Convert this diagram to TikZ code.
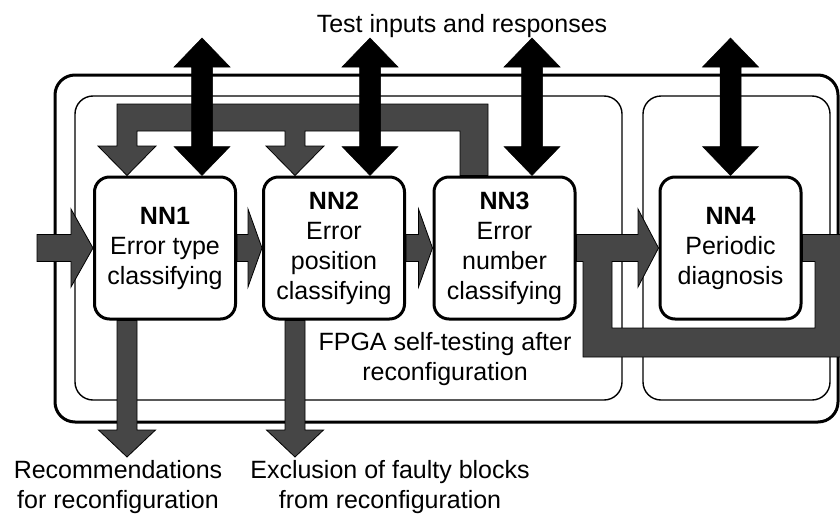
\documentclass[tikz,border=0pt]{standalone}
\usepackage{fontspec}
\setmainfont{Liberation Sans}
\usetikzlibrary{calc}
\pgfdeclarelayer{back}
\pgfsetlayers{back,main}
\definecolor{bandgray}{RGB}{70,70,70}
\tikzset{
  nnbox/.style={draw=black, line width=3pt, fill=white, rounded corners=15pt,
    minimum width=141pt, minimum height=142pt, align=center, inner sep=0pt,
    font=\fontsize{25}{30}\selectfont},
  frameouter/.style={draw=black, line width=3pt, rounded corners=20pt},
  framepanel/.style={draw=black, line width=1.4pt, rounded corners=18pt},
  grayband/.style={fill=bandgray, draw=black, line width=0.8pt, line join=miter},
  blackband/.style={fill=black, draw=black, line width=0.5pt},
  txt/.style={font=\fontsize{25}{30}\selectfont, align=center, inner sep=0pt},
}
% block arrow pointing right: style, start, tip, half body, half head, head length
\newcommand\BlockRight[6]{%
  \filldraw[#1] ($(#2)+(0,-#4)$) -- ($(#3)+(-#6,-#4)$) -- ($(#3)+(-#6,-#5)$) -- (#3)
    -- ($(#3)+(-#6,#5)$) -- ($(#3)+(-#6,#4)$) -- ($(#2)+(0,#4)$) -- cycle;}
% block arrow pointing down: style, start, tip, half body, half head, head length
\newcommand\BlockDown[6]{%
  \filldraw[#1] ($(#2)+(-#4,0)$) -- ($(#3)+(-#4,-#6)$) -- ($(#3)+(-#5,-#6)$) -- (#3)
    -- ($(#3)+(#5,-#6)$) -- ($(#3)+(#4,-#6)$) -- ($(#2)+(#4,0)$) -- cycle;}
% double-headed vertical block arrow: style, top tip, bottom tip, half body, half head, head length
\newcommand\BlockBoth[6]{%
  \filldraw[#1] (#2) -- ($(#2)+(#5,#6)$) -- ($(#2)+(#4,#6)$) -- ($(#3)+(#4,-#6)$)
    -- ($(#3)+(#5,-#6)$) -- (#3) -- ($(#3)+(-#5,-#6)$) -- ($(#3)+(-#4,-#6)$)
    -- ($(#2)+(-#4,#6)$) -- ($(#2)+(-#5,#6)$) -- cycle;}
\begin{document}
\begin{tikzpicture}[x=1pt,y=-1pt]
\useasboundingbox (0,0) rectangle (840,514);

% frames
\begin{pgfonlayer}{back}
  \draw[frameouter] (55,75) rectangle (838,422);
  \draw[framepanel] (75,96) rectangle (622,400);
  \draw[framepanel] (643,96) rectangle (830,400);
\end{pgfonlayer}

% neural network blocks
\node[nnbox] (n1) at (165,248) {\textbf{NN1}\\Error type\\classifying};
\node[nnbox] (n2) at (334,248) {\textbf{NN2}\\Error\\position\\classifying};
\node[nnbox] (n3) at (504.5,248) {\textbf{NN3}\\Error\\number\\classifying};
\node[nnbox] (n4) at (730.5,248) {\textbf{NN4}\\Periodic\\diagnosis};

% texts
\node[txt, anchor=base] (tir) at (462,32) {Test inputs and responses};
\node[txt, anchor=north] (fpga) at (445,332) {FPGA self-testing after\\reconfiguration};
\node[txt, anchor=north] (rec) at (118,460) {Recommendations\\for reconfiguration};
\node[txt, anchor=north] (exc) at (390,460) {Exclusion of faulty blocks\\from reconfiguration};

% free ends
\coordinate (in) at (37,248);
\coordinate (t1) at ($(n1.north)+(-38,0)$);
\coordinate (t2) at ($(n2.north)+(-39,0)$);
\coordinate (b1) at ($(n1.south)+(-38,0)$);
\coordinate (b2) at ($(n2.south)+(-39,0)$);
\coordinate (o1) at (127,457);
\coordinate (o2) at (295,457);
\coordinate (u1) at (202,38);
\coordinate (u2) at (370,38);
\coordinate (u3) at (532,38);
\coordinate (u4) at (730.5,38);

\begin{pgfonlayer}{back}
  % forward data flow
  \BlockRight{grayband}{in}{n1.west}{13.5}{39}{22}
  \BlockRight{grayband}{n1.east}{n2.west}{13.5}{39}{14}
  \BlockRight{grayband}{n2.east}{n3.west}{13.5}{39}{14}
  % NN3 to NN4 together with the loop round NN4
  \filldraw[grayband] ($(n3.east)+(0,-13.5)$) -- (638,234.5) -- (638,209) -- (n4.west)
    -- (638,287) -- (638,261.5) -- (612,261.5) -- (612,328) -- (815,328) -- (815,261.5)
    -- ($(n4.east)+(0,13.5)$) -- ($(n4.east)+(0,-13.5)$) -- (848,234.5) -- (848,357)
    -- (583,357) -- (583,261.5) -- ($(n3.east)+(0,13.5)$) -- cycle;
  % feedback from NN3 to NN1 and NN2
  \filldraw[grayband] ($(n3.north)+(-16.5,0)$) -- (488,104) -- (117,104) -- (117,146)
    -- (98,146) -- (t1) -- (156,146) -- (137,146) -- (137,131) -- (285,131) -- (285,146)
    -- (266,146) -- (t2) -- (324,146) -- (305,146) -- (305,131) -- (460,131)
    -- ($(n3.north)+(-44.5,0)$) -- cycle;
  % outputs
  \BlockDown{grayband}{b1}{o1}{10}{28.5}{27}
  \BlockDown{grayband}{b2}{o2}{10}{28.5}{27}
  % test inputs and responses
  \BlockBoth{blackband}{u1}{$(n1.north)+(37,0)$}{10.5}{28}{29}
  \BlockBoth{blackband}{u2}{$(n2.north)+(36,0)$}{10.5}{28}{29}
  \BlockBoth{blackband}{u3}{$(n3.north)+(27.5,0)$}{10.5}{28}{29}
  \BlockBoth{blackband}{u4}{n4.north}{10.5}{28}{29}
\end{pgfonlayer}
\end{tikzpicture}
\end{document}
